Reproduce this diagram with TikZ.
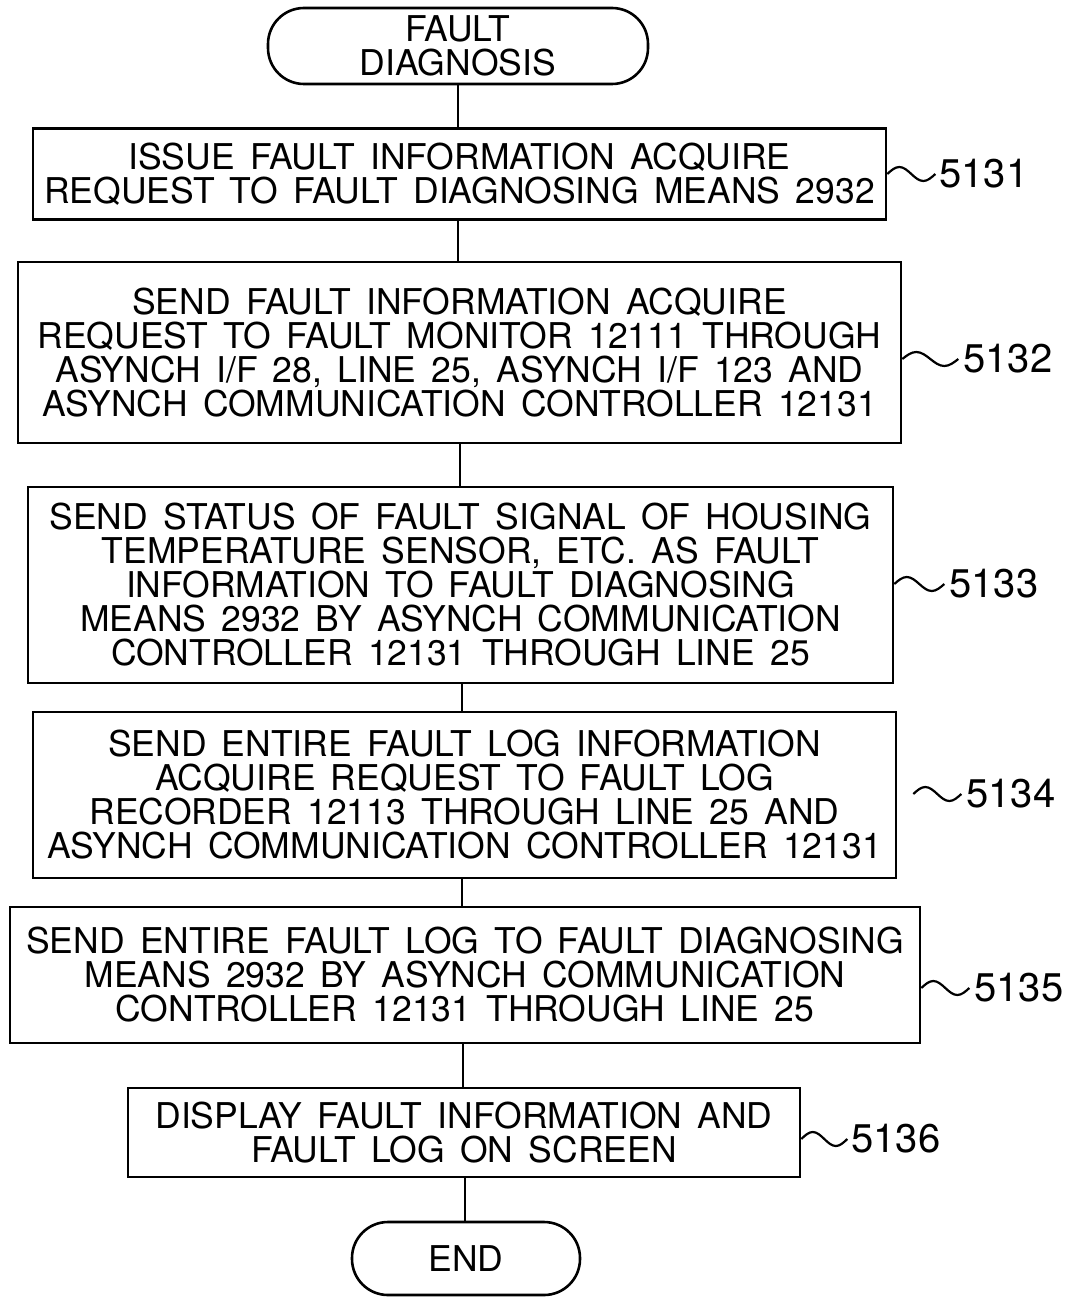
\documentclass[tikz,border=0pt]{standalone}
\usepackage{fontspec}
\setmainfont{TeX Gyre Heros}[WordSpace=1.55]
\usetikzlibrary{calc}
\begin{document}
\begin{tikzpicture}[x=1pt,y=-1pt,
  line width=2.6pt,
  boxtxt/.style={font=\fontsize{35.5}{34}\selectfont, align=center, inner sep=0pt},
  stepbox/.style={boxtxt, draw, rectangle},
  termbox/.style={boxtxt, draw, rectangle, rounded corners=36pt},
  reflabel/.style={font=\fontsize{40}{40}\selectfont, inner sep=0pt, anchor=west},
  wave/.style={line width=2.2pt},
  conn/.style={line width=2.6pt}]
\useasboundingbox (0,0) rectangle (1073,1297);

\node[termbox, minimum width=380pt, minimum height=76pt] (start) at (458,46) {FAULT\\DIAGNOSIS};

\node[stepbox, minimum width=853pt, minimum height=91pt] (b1) at (459.5,174)
  {ISSUE FAULT INFORMATION ACQUIRE\\REQUEST TO FAULT DIAGNOSING MEANS 2932};
\node[stepbox, minimum width=883pt, minimum height=181pt] (b2) at (459.5,352.5)
  {SEND FAULT INFORMATION ACQUIRE\\REQUEST TO FAULT MONITOR 12111 THROUGH\\ASYNCH I/F 28, LINE 25, ASYNCH I/F 123 AND\\ASYNCH COMMUNICATION CONTROLLER 12131};
\node[stepbox, minimum width=865pt, minimum height=196pt] (b3) at (460.5,585)
  {SEND STATUS OF FAULT SIGNAL OF HOUSING\\TEMPERATURE SENSOR, ETC. AS FAULT\\INFORMATION TO FAULT DIAGNOSING\\MEANS 2932 BY ASYNCH COMMUNICATION\\CONTROLLER 12131 THROUGH LINE 25};
\node[stepbox, minimum width=863pt, minimum height=166pt] (b4) at (464.5,795)
  {SEND ENTIRE FAULT LOG INFORMATION\\ACQUIRE REQUEST TO FAULT LOG\\RECORDER 12113 THROUGH LINE 25 AND\\ASYNCH COMMUNICATION CONTROLLER 12131};
\node[stepbox, minimum width=910pt, minimum height=136pt] (b5) at (465,975)
  {SEND ENTIRE FAULT LOG TO FAULT DIAGNOSING\\MEANS 2932 BY ASYNCH COMMUNICATION\\CONTROLLER 12131 THROUGH LINE 25};
\node[stepbox, minimum width=672pt, minimum height=89pt] (b6) at (464,1132.5)
  {DISPLAY FAULT INFORMATION AND\\FAULT LOG ON SCREEN};

\node[termbox, minimum width=228pt, minimum height=73pt] (end) at (466,1258.5) {END};

% connectors
\coordinate (x1) at (458,0);
\coordinate (x2) at (458,0);
\coordinate (x3) at (460,0);
\coordinate (x4) at (462,0);
\coordinate (x5) at (462,0);
\coordinate (x6) at (463,0);
\coordinate (x7) at (465,0);
\draw[conn] (start.south -| x1) -- (b1.north -| x1);
\draw[conn] (b1.south -| x2) -- (b2.north -| x2);
\draw[conn] (b2.south -| x3) -- (b3.north -| x3);
\draw[conn] (b3.south -| x4) -- (b4.north -| x4);
\draw[conn] (b4.south -| x5) -- (b5.north -| x5);
\draw[conn] (b5.south -| x6) -- (b6.north -| x6);
\draw[conn] (b6.south -| x7) -- (end.north -| x7);

% reference labels
\node[reflabel] (l1) at (938,174) {5131};
\node[reflabel] (l2) at (962,359) {5132};
\node[reflabel] (l3) at (948,584) {5133};
\node[reflabel] (l4) at (965,794) {5134};
\node[reflabel] (l5) at (973,988) {5135};
\node[reflabel] (l6) at (850,1139) {5136};

\draw[wave] (b1.east |- l1.west) sin ++(12,-7) cos ++(12,7) sin ++(12,7) cos ++(12,-7);
\draw[wave] (b2.east |- l2.west) sin ++(14,-7) cos ++(14,7) sin ++(14,7) cos ++(14,-7);
\draw[wave] (b3.east |- l3.west) sin ++(12.5,-7) cos ++(12.5,7) sin ++(12.5,7) cos ++(12.5,-7);
\draw[wave] ($(b4.east |- l4.west)+(16,0)$) sin ++(12,-7) cos ++(12,7) sin ++(12,7) cos ++(12,-7);
\draw[wave] (b5.east |- l5.west) sin ++(12,-7) cos ++(12,7) sin ++(12,7) cos ++(12,-7);
\draw[wave] (b6.east |- l6.west) sin ++(11.5,-7) cos ++(11.5,7) sin ++(11.5,7) cos ++(11.5,-7);
\end{tikzpicture}
\end{document}
